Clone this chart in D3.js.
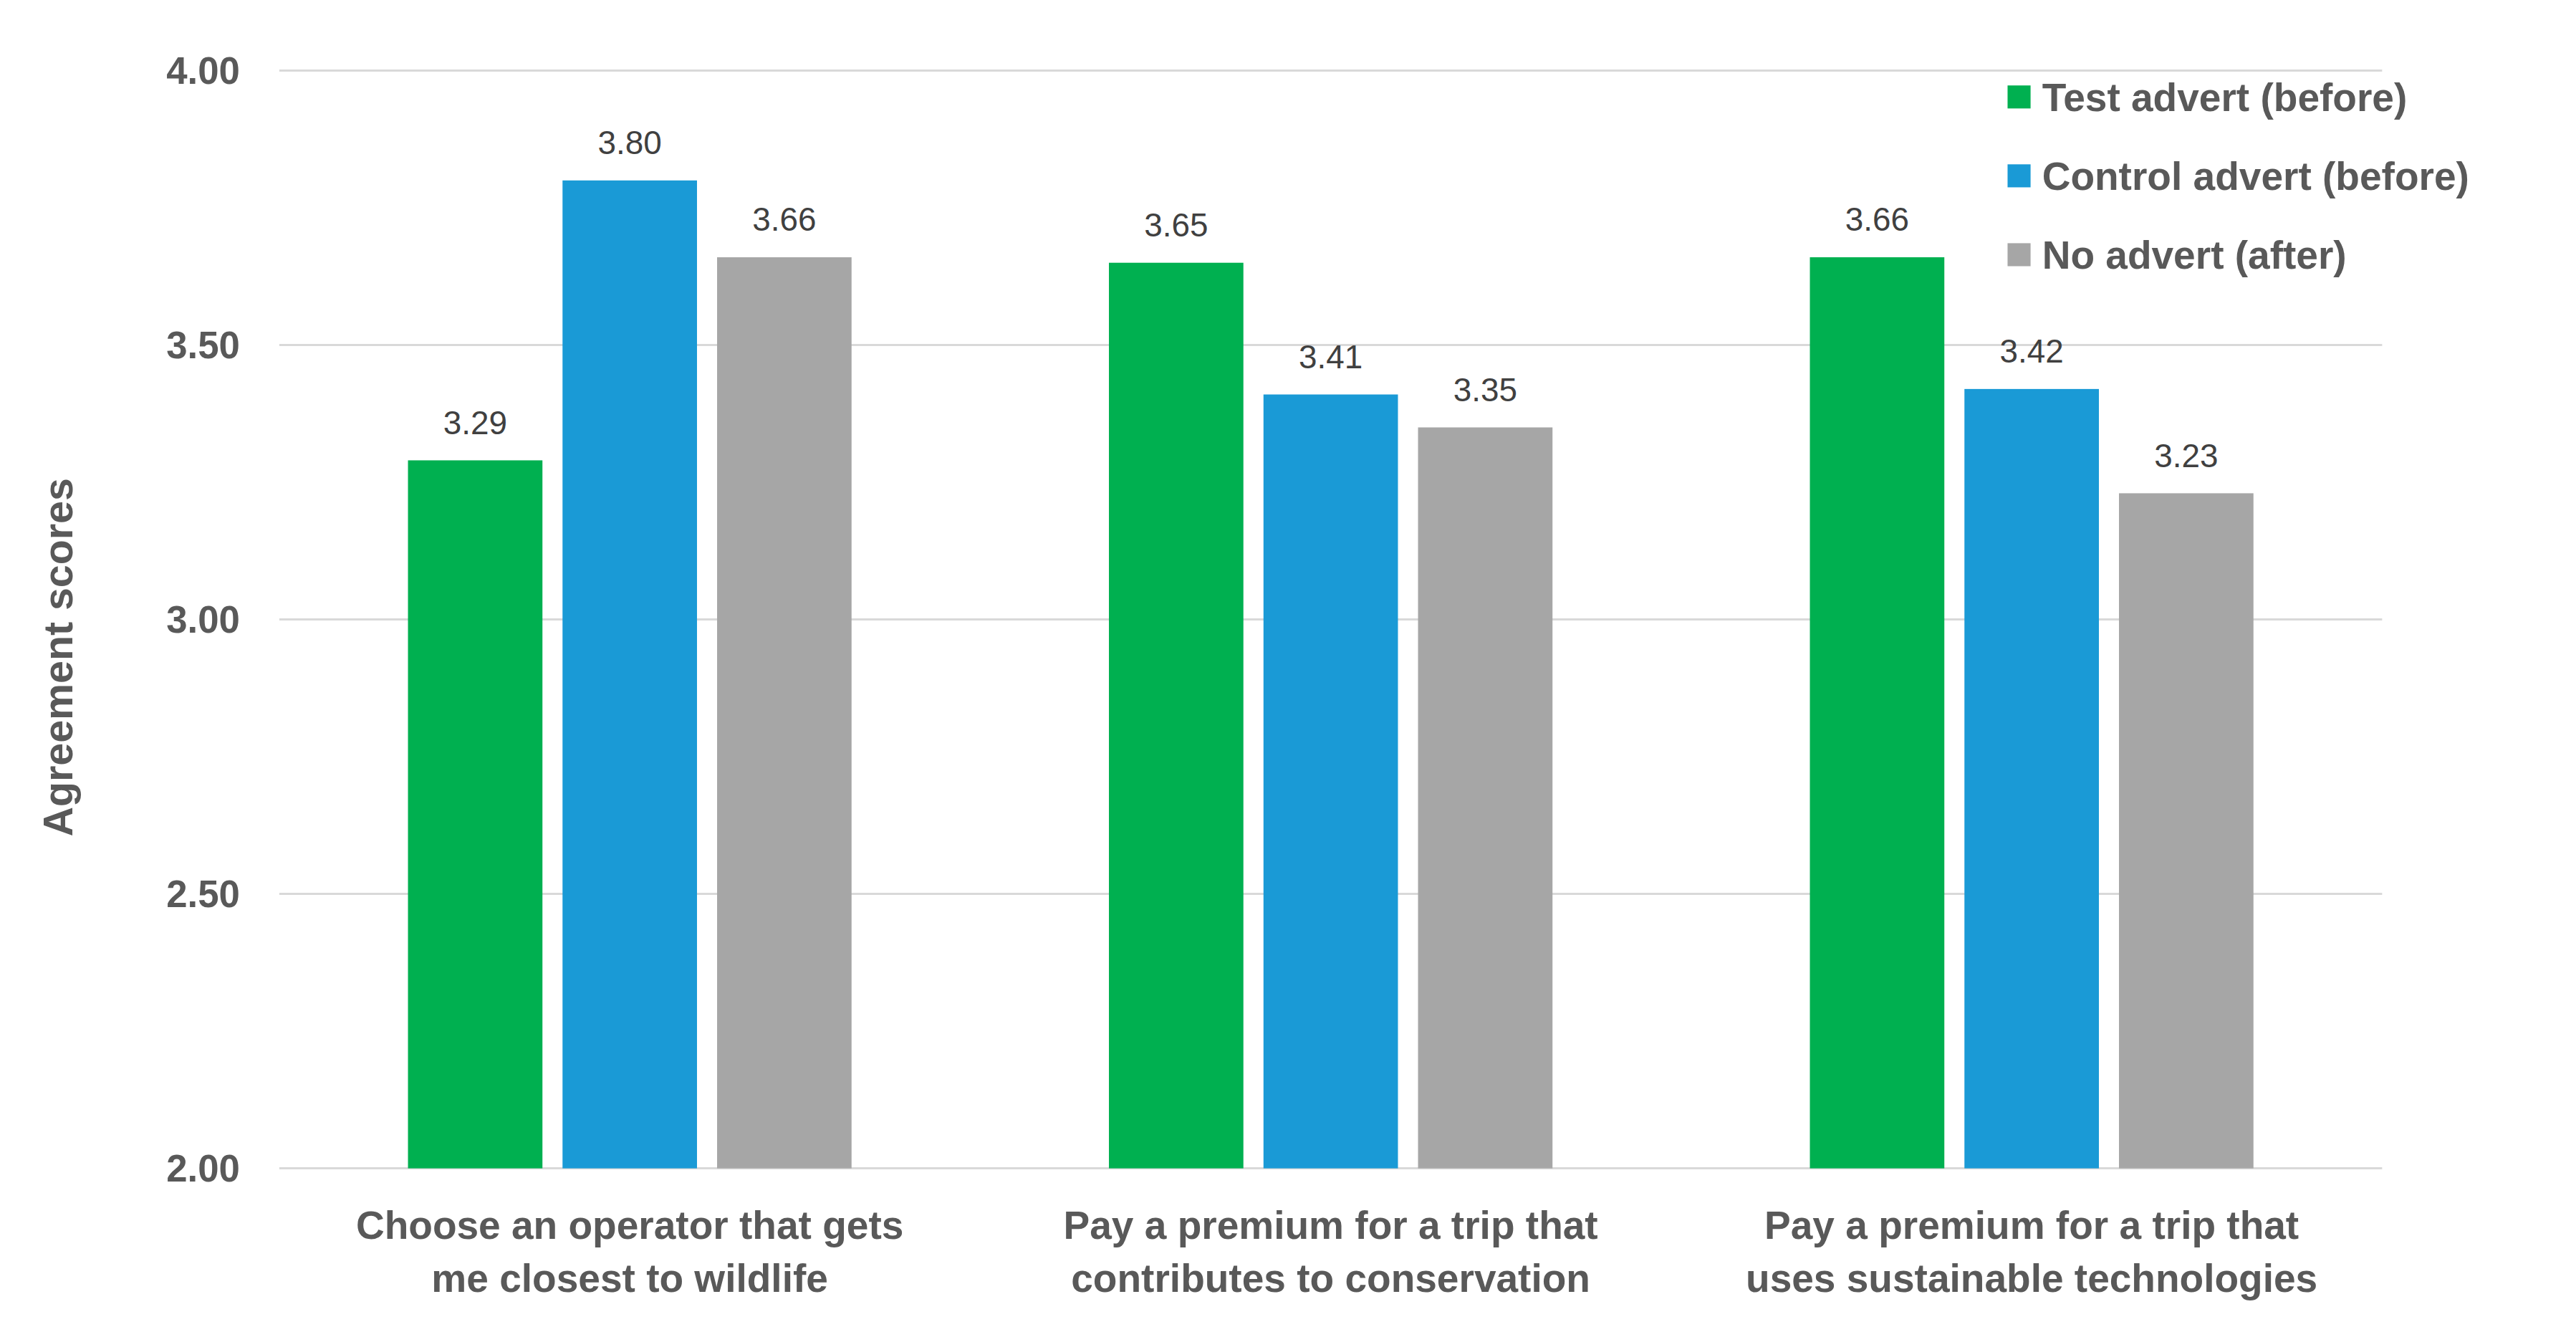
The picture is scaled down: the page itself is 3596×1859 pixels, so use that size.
<!DOCTYPE html>
<html>
<head>
<meta charset="utf-8">
<script src="https://cdn.jsdelivr.net/npm/d3@7"></script>
<style>
  body { margin: 0; background: #fff; }
  text { font-family: Arial, "Liberation Sans", sans-serif; }
</style>
</head>
<body>
<script>
// data
const categories = [
    ['Choose an operator that gets', 'me closest to wildlife'],
    ['Pay a premium for a trip that', 'contributes to conservation'],
    ['Pay a premium for a trip that', 'uses sustainable technologies']
];
const seriesNames = ['Test advert (before)', 'Control advert (before)', 'No advert (after)'];
const seriesColors = ['#00b050', '#1a9ad6', '#a6a6a6'];
const testBefore = [3.29, 3.65, 3.66];
const controlBefore = [3.80, 3.41, 3.42];
const noAdvertAfter = [3.66, 3.35, 3.23];
const yTicks = [2.00, 2.50, 3.00, 3.50, 4.00];

const series = [testBefore, controlBefore, noAdvertAfter];

// layout in a 1568-wide coordinate space, scaled up to the window
const W = 1568, H = 810.6;
const svg = d3.select('body').append('svg')
    .attr('width', 3596)
    .attr('height', 1859)
    .attr('viewBox', `0 0 ${W} ${H}`);

const x = d3.scaleBand().domain(d3.range(categories.length)).range([170, 1450]);
const y = d3.scaleLinear().domain([2, 4]).range([711, 43]);
const inner = d3.scaleBand().domain(d3.range(series.length))
    .range([0, 270]).paddingInner(0.13);
const offset = (x.bandwidth() - 270) / 2;

// gridlines
svg.append('g').selectAll('line').data(yTicks).join('line')
    .attr('x1', 170).attr('x2', 1450)
    .attr('y1', d => y(d)).attr('y2', d => y(d))
    .attr('stroke', '#d9d9d9').attr('stroke-width', 1.3);

// y tick labels
svg.append('g').selectAll('text').data(yTicks).join('text')
    .attr('x', 146).attr('y', d => y(d)).attr('dy', '0.35em')
    .attr('text-anchor', 'end')
    .attr('font-size', 23).attr('font-weight', 'bold').attr('fill', '#595959')
    .text(d => d.toFixed(2));

// y title
svg.append('text')
    .attr('transform', 'translate(44,400) rotate(-90)')
    .attr('text-anchor', 'middle')
    .attr('font-size', 25).attr('font-weight', 'bold').attr('fill', '#595959')
    .text('Agreement  scores');

// bars
series.forEach((vals, s) => {
    const g = svg.append('g');
    g.selectAll('rect').data(vals).join('rect')
        .attr('x', (d, i) => x(i) + offset + inner(s))
        .attr('width', inner.bandwidth())
        .attr('y', d => y(d))
        .attr('height', d => y(2) - y(d))
        .attr('fill', seriesColors[s]);
    g.selectAll('text').data(vals).join('text')
        .attr('x', (d, i) => x(i) + offset + inner(s) + inner.bandwidth() / 2)
        .attr('y', d => y(d) - 16)
        .attr('text-anchor', 'middle')
        .attr('font-size', 20).attr('fill', '#404040')
        .text(d => d.toFixed(2));
});

// x labels
const xl = svg.append('g').selectAll('text').data(categories).join('text')
    .attr('text-anchor', 'middle')
    .attr('font-size', 24).attr('font-weight', 'bold').attr('fill', '#595959');
xl.each(function (lines, i) {
    d3.select(this).selectAll('tspan').data(lines).join('tspan')
        .attr('x', x(i) + x.bandwidth() / 2)
        .attr('y', (d, j) => 754 + j * 32)
        .text(d => d);
});

// legend
const lg = svg.append('g').selectAll('g').data(seriesNames).join('g')
    .attr('transform', (d, i) => `translate(1222,${59 + i * 48})`);
lg.append('rect').attr('x', 0).attr('y', -7).attr('width', 14).attr('height', 14)
    .attr('fill', (d, i) => seriesColors[i]);
lg.append('text').attr('x', 21).attr('dy', '0.35em')
    .attr('font-size', 24).attr('font-weight', 'bold').attr('fill', '#595959')
    .text(d => d);
</script>
</body>
</html>
